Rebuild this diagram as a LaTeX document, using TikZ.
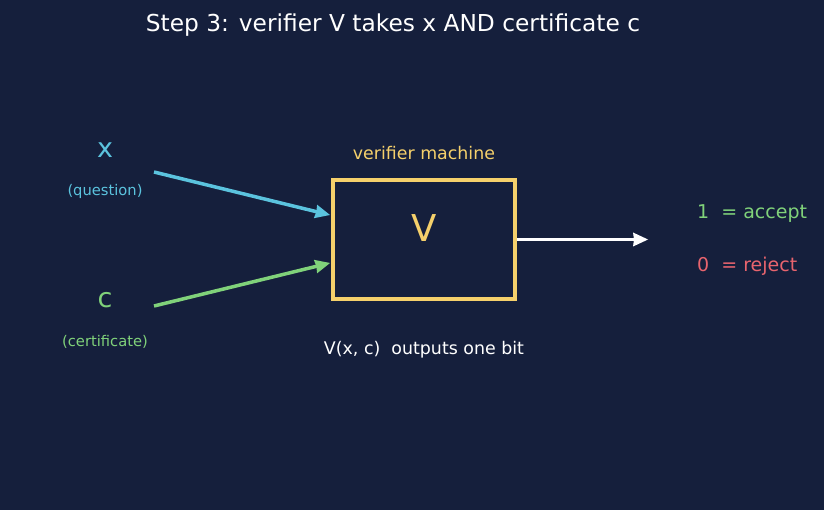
\documentclass[tikz,border=0pt]{standalone}
\usepackage{fontspec}
\setmainfont{DejaVu Sans}
\usetikzlibrary{calc}
\definecolor{bg}{HTML}{151F3C}
\definecolor{cx}{HTML}{5BC3DE}
\definecolor{cg}{HTML}{80D27A}
\definecolor{cy}{HTML}{F5D06B}
\definecolor{cr}{HTML}{E8646E}
\tikzset{
  lbl/.style={inner sep=0pt, anchor=center},
  shaft/.style={line width=3.5pt},
}
\newcommand{\myarrow}[3]{%
  \draw[shaft, #1] (#2) -- ($(#3)!12pt!(#2)$);
  \fill[#1] (#3) -- ($($(#3)!15pt!(#2)$)!7pt!90:(#3)$) -- ($(#3)!14pt!(#2)$) -- ($($(#3)!15pt!(#2)$)!7pt!-90:(#3)$) -- cycle;
}
\begin{document}
\begin{tikzpicture}[x=1pt,y=1pt]
\fill[bg] (0,0) rectangle (824,-510);
\useasboundingbox (0,0) rectangle (824,-510);
\node[lbl, text=white, font=\fontsize{23.3}{27}\selectfont] (title) at (393,-25.5) {Step 3: verifier V takes x AND certificate c};
\node[lbl, text=cx, font=\fontsize{27}{31}\selectfont] (x) at (105,-150.5) {x};
\node[lbl, text=cx, font=\fontsize{14.7}{17}\selectfont] (xq) at (105,-191) {(question)};
\node[lbl, text=cg, font=\fontsize{27}{31}\selectfont] (c) at (105,-300.5) {c};
\node[lbl, text=cg, font=\fontsize{14.7}{17}\selectfont] (cc) at (105,-342) {(certificate)};
\node[draw=cy, line width=4.5pt, minimum width=182pt, minimum height=119pt, inner sep=0pt] (V) at (424,-239.5) {};
\node[lbl, text=cy, font=\fontsize{37}{42}\selectfont] (Vl) at (424,-228.5) {V};
\node[lbl, text=cy, font=\fontsize{17.4}{21}\selectfont] (vm) at (424,-153) {verifier machine};
\node[lbl, text=white, font=\fontsize{17.4}{21}\selectfont] (out) at (424,-349.5) {V(x, c)\ \ outputs one bit};
\coordinate (xs) at (154,-172);
\coordinate (cs) at (154,-306);
\coordinate (xe) at (330,-215);
\coordinate (ce) at (330,-263);
\coordinate (vs) at (517,-239.5);
\coordinate (oe) at (648,-239.5);
\myarrow{cx}{xs}{xe}
\myarrow{cg}{cs}{ce}
\myarrow{white}{vs}{oe}
\node[lbl, anchor=west, text=cg, font=\fontsize{19}{23}\selectfont] (acc) at (697,-213.5) {1\ \ = accept};
\node[lbl, anchor=west, text=cr, font=\fontsize{19}{23}\selectfont] (rej) at (697,-266.5) {0\ \ = reject};
\end{tikzpicture}
\end{document}
